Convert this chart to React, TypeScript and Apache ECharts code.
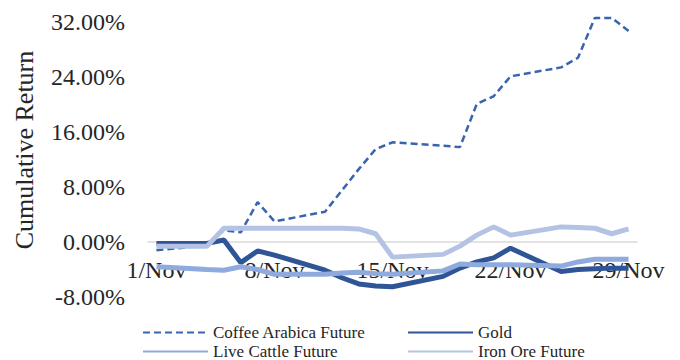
import React, { useEffect, useRef } from "react";
import * as echarts from "echarts";

const days: string[] = [
  "1/Nov", "2/Nov", "3/Nov", "4/Nov", "5/Nov", "6/Nov", "7/Nov", "8/Nov", "9/Nov", "10/Nov",
  "11/Nov", "12/Nov", "13/Nov", "14/Nov", "15/Nov", "16/Nov", "17/Nov", "18/Nov", "19/Nov", "20/Nov",
  "21/Nov", "22/Nov", "23/Nov", "24/Nov", "25/Nov", "26/Nov", "27/Nov", "28/Nov", "29/Nov",
];

// cumulative return in %, null = no trading day
const coffee: (number | null)[] = [
  -1.2, null, null, -0.5, 1.7, 1.4, 5.8, 3.0, null, null,
  4.4, 7.5, 10.6, 13.5, 14.5, null, null, 14.0, 13.8, 20.1,
  21.2, 24.1, null, null, 25.4, 26.8, 32.6, 32.6, 30.7,
];
const gold: (number | null)[] = [
  -0.2, null, null, -0.2, 0.3, -3.0, -1.3, -1.9, null, null,
  -4.1, -5.2, -6.1, -6.4, -6.5, null, null, -5.0, -3.8, -2.9,
  -2.3, -0.9, null, null, -4.3, -4.0, -3.9, -3.8, -3.8,
];
const liveCattle: (number | null)[] = [
  -3.6, null, null, -4.0, -4.1, -3.6, -4.0, -4.7, null, null,
  -4.7, -4.5, -4.4, -4.6, -4.7, null, null, -4.2, -3.2, -3.3,
  -3.3, -3.3, null, null, -3.5, -2.9, -2.5, -2.5, -2.5,
];
const ironOre: (number | null)[] = [
  -0.6, null, null, -0.6, 2.0, 2.0, 2.0, 2.0, null, null,
  2.0, 2.0, 1.9, 1.2, -2.2, null, null, -1.8, -0.6, 1.0,
  2.2, 1.0, null, null, 2.2, 2.1, 2.0, 1.2, 1.9,
];

const yTicks = { min: -8, max: 32, interval: 8 };
const FONT = "Liberation Serif, Times New Roman, serif";
const TEXT = "#262626";

export default function App() {
  const ref = useRef<HTMLDivElement>(null);
  useEffect(() => {
    if (!ref.current) return;
    document.body.style.margin = "0";
    const chart = echarts.init(ref.current, undefined, { renderer: "svg" });
    const legendText = { fontFamily: FONT, fontSize: 17, color: TEXT };
    const mkLegend = (name: string, left: number, top: number) => ({
      orient: "horizontal",
      left,
      top,
      itemWidth: 65,
      itemHeight: 10,
      padding: 0,
      data: [name],
      itemStyle: { opacity: 0 },
      textStyle: legendText,
    });
    chart.setOption({
      animation: false,
      backgroundColor: "#ffffff",
      textStyle: { fontFamily: FONT },
      grid: { left: 148, right: 43, top: 22, bottom: 63, containLabel: false },
      xAxis: {
        type: "category",
        data: days,
        boundaryGap: true,
        axisLine: { onZero: true, lineStyle: { color: "#D9D9D9", width: 1.5 } },
        axisTick: { show: false },
        axisLabel: {
          interval: 6,
          margin: -39,
          fontFamily: FONT,
          fontSize: 24,
          color: TEXT,
        },
        splitLine: { show: false },
      },
      yAxis: {
        type: "value",
        min: yTicks.min,
        max: yTicks.max,
        interval: yTicks.interval,
        axisLine: { show: false },
        axisTick: { show: false },
        splitLine: { show: false },
        axisLabel: {
          margin: 23,
          fontFamily: FONT,
          fontSize: 24,
          color: TEXT,
          formatter: (v: number) => v.toFixed(2) + "%",
        },
      },
      graphic: [
        {
          type: "text",
          x: 24,
          y: 150,
          rotation: Math.PI / 2,
          style: {
            text: "Cumulative Return",
            fontFamily: FONT,
            fontSize: 26,
            fill: TEXT,
            align: "center",
            verticalAlign: "middle",
          },
        },
      ],
      legend: [
        mkLegend("Coffee Arabica Future", 142, 324),
        mkLegend("Live Cattle Future", 142, 343),
        mkLegend("Gold", 407, 324),
        mkLegend("Iron Ore Future", 407, 343),
      ],
      series: [
        {
          name: "Coffee Arabica Future",
          type: "line",
          data: coffee,
          connectNulls: true,
          clip: false,
          symbol: "none",
          color: "#3A64B0",
          lineStyle: { color: "#3A64B0", width: 2.5, type: [7, 4] },
        },
        {
          name: "Gold",
          type: "line",
          data: gold,
          connectNulls: true,
          clip: false,
          symbol: "none",
          color: "#2F5597",
          lineStyle: { color: "#2F5597", width: 5 },
        },
        {
          name: "Live Cattle Future",
          type: "line",
          data: liveCattle,
          connectNulls: true,
          clip: false,
          symbol: "none",
          color: "#8FAADC",
          lineStyle: { color: "#8FAADC", width: 5 },
        },
        {
          name: "Iron Ore Future",
          type: "line",
          data: ironOre,
          connectNulls: true,
          clip: false,
          symbol: "none",
          color: "#B4C3E4",
          lineStyle: { color: "#B4C3E4", width: 5 },
        },
      ],
    });
    return () => chart.dispose();
  }, []);
  return <div ref={ref} style={{ width: 680, height: 360 }} />;
}
